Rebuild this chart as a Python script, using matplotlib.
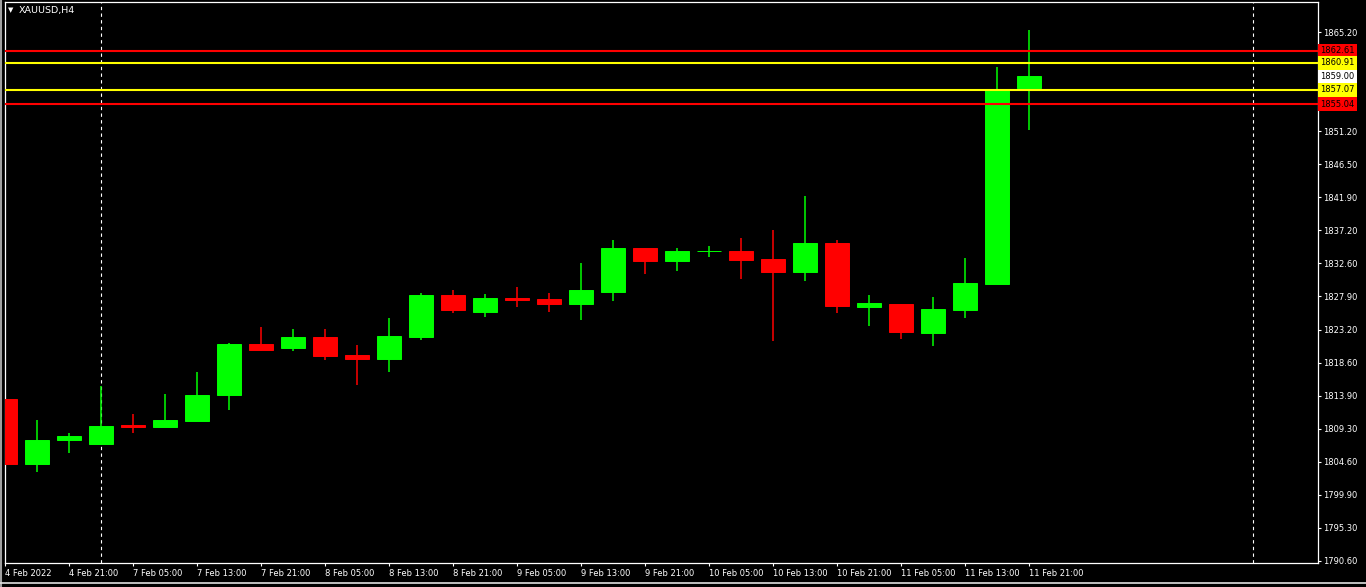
import matplotlib
matplotlib.use('Agg')
import matplotlib.pyplot as plt
from matplotlib.lines import Line2D
import numpy as np

# XAUUSD H4 candles
opens = [1813.43, 1804.29, 1807.68, 1807.12, 1809.76, 1809.52, 1810.36, 1814.03,
         1821.19, 1820.67, 1822.18, 1819.64, 1819.12, 1822.22, 1828.11, 1825.75,
         1827.69, 1827.55, 1826.88, 1828.58, 1834.75, 1832.95, 1834.28, 1834.32,
         1833.19, 1831.40, 1835.45, 1826.46, 1826.84, 1822.75, 1826.04, 1829.71,
         1857.29]
highs = [1815.02, 1810.46, 1808.63, 1815.26, 1811.31, 1814.13, 1817.24, 1821.38,
         1823.59, 1823.31, 1823.31, 1821.05, 1824.86, 1828.39, 1828.82, 1828.25,
         1829.24, 1828.39, 1832.63, 1835.88, 1834.80, 1834.75, 1835.03, 1836.16,
         1837.29, 1842.09, 1835.88, 1828.11, 1826.90, 1827.83, 1833.33, 1860.30,
         1865.52]
lows = [1800.86, 1803.16, 1805.85, 1807.00, 1808.67, 1809.45, 1810.30, 1811.92,
        1820.20, 1820.25, 1818.98, 1815.45, 1817.28, 1821.80, 1825.61, 1825.05,
        1826.46, 1825.75, 1824.62, 1827.31, 1831.12, 1831.54, 1833.52, 1830.41,
        1821.66, 1830.13, 1825.61, 1823.78, 1821.90, 1820.91, 1824.91, 1829.60,
        1851.45]
closes = [1804.29, 1807.64, 1808.20, 1809.62, 1809.52, 1810.46, 1813.99, 1821.19,
          1820.39, 1822.18, 1819.54, 1819.12, 1822.32, 1828.11, 1826.04, 1827.69,
          1827.45, 1826.88, 1828.82, 1834.75, 1832.95, 1834.32, 1834.36, 1833.10,
          1831.40, 1835.45, 1826.60, 1826.98, 1822.93, 1826.13, 1829.81, 1857.15,
          1859.00]

xtick_labels = ['4 Feb 2022', '4 Feb 21:00', '7 Feb 05:00', '7 Feb 13:00', '7 Feb 21:00',
                '8 Feb 05:00', '8 Feb 13:00', '8 Feb 21:00', '9 Feb 05:00', '9 Feb 13:00',
                '9 Feb 21:00', '10 Feb 05:00', '10 Feb 13:00', '10 Feb 21:00',
                '11 Feb 05:00', '11 Feb 13:00', '11 Feb 21:00']
ytick_labels = ['1790.60', '1795.30', '1799.90', '1804.60', '1809.30', '1813.90',
                '1818.60', '1823.20', '1827.90', '1832.60', '1837.20', '1841.90',
                '1846.50', '1851.20', '1855.90', '1860.50', '1865.20']

# horizontal levels (price, colour)
level_prices = [1862.61, 1860.91, 1857.07, 1855.04]
level_colors = ['#ff0000', '#ffff00', '#ffff00', '#ff0000']
bid = 1859.00
separators = [3, 39]

W, H = 1366, 587
fig = plt.figure(figsize=(W / 100, H / 100), dpi=100, facecolor='black')
ax = fig.add_axes([4.5 / W, (H - 563) / H, (1318 - 4.5) / W, (563 - 2) / H])
ax.set_facecolor('black')

x = np.arange(len(opens))
o = np.array(opens); c = np.array(closes)
up = c >= o
cols = np.where(up, '#00ff00', '#ff0000')

ax.vlines(x, lows, highs, colors=cols, linewidth=1.1, zorder=2)
ax.bar(x, c - o, bottom=o, width=0.75, color=cols, edgecolor=cols,
       linewidth=0.7, zorder=3)

for s in separators:
    ax.axvline(s, color='white', linewidth=0.8, linestyle=(0, (3, 3)), zorder=1)

for p, col in zip(level_prices, level_colors):
    ax.axhline(p, color=col, linewidth=1.5, zorder=4)

ax.set_xlim(-0.025, 41.02)
ax.set_ylim(1790.27, 1869.48)

ax.set_xticks(np.arange(0, 33, 2))
ax.set_xticklabels(xtick_labels, ha='left')
ax.set_yticks(np.linspace(1790.6, 1865.2, 17))
ax.set_yticklabels(ytick_labels)
ax.yaxis.tick_right()
ax.tick_params(axis='both', colors='white', labelcolor='white', labelsize=6,
               direction='out', length=2.5, width=0.8)
ax.tick_params(axis='x', pad=1.5)
ax.tick_params(axis='y', pad=1.5)
for sp in ax.spines.values():
    sp.set_color('white')
    sp.set_linewidth(0.9)

# price boxes on the right axis
ytr = ax.get_yaxis_transform()
for p, col in zip(level_prices, level_colors):
    ax.text(1.0018, p, '%.2f' % p, transform=ytr, fontsize=6, color='black',
            va='center', ha='left', clip_on=False, zorder=6,
            bbox=dict(boxstyle='square,pad=0.3', fc=col, ec='none'))
ax.text(1.0018, bid, '%.2f' % bid, transform=ytr, fontsize=6, color='black',
        va='center', ha='left', clip_on=False, zorder=5,
        bbox=dict(boxstyle='square,pad=0.3', fc='white', ec='none'))

# symbol caption
fig.text(8 / W, 1 - 10 / H, '\u25bc', color='white', fontsize=5, va='center', ha='left')
fig.text(19 / W, 1 - 10 / H, 'XAUUSD,H4', color='white', fontsize=6.8, va='center', ha='left')

# window borders
fig.add_artist(Line2D([1 / W, 1 / W], [0, 1], color='#a0a0a0', linewidth=1.5))
fig.add_artist(Line2D([0, 1], [1 - 583 / H, 1 - 583 / H], color='#e0e0e0', linewidth=1.2))

fig.savefig('out.png', dpi=100, facecolor='black')
